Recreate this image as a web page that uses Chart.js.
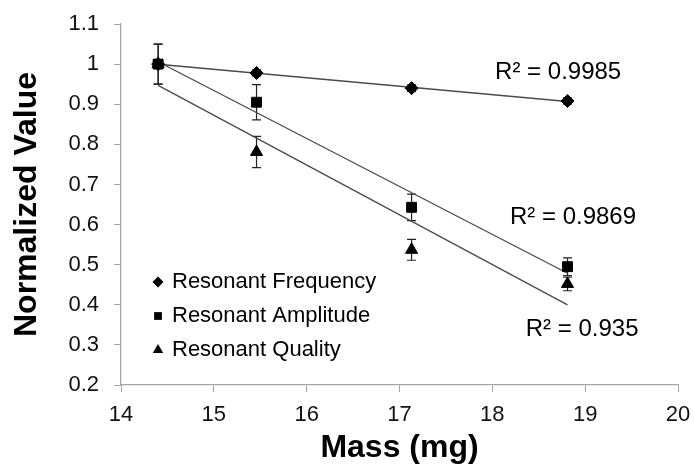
<!DOCTYPE html>
<html>
<head>
<meta charset="utf-8">
<script src="https://cdn.jsdelivr.net/npm/chart.js@4.4.1/dist/chart.umd.min.js"></script>
<style>
  body { margin: 0; background: #fff; }
  #wrap { width: 694px; height: 467px; }
</style>
</head>
<body>
<div id="wrap"><canvas id="chart" width="694" height="467"></canvas></div>
<script>
// values
const mass = [14.4, 15.46, 17.13, 18.81];
const frequency = [1.0, 0.978, 0.940, 0.908];
const frequencyErr = [0.01, 0.008, 0.008, 0.008];
const amplitude = [1.0, 0.905, 0.643, 0.495];
const amplitudeErr = [0.05, 0.044, 0.033, 0.022];
const quality = [1.0, 0.781, 0.537, 0.452];
const qualityErr = [0.05, 0.039, 0.026, 0.017];
const seriesNames = ['Resonant Frequency', 'Resonant Amplitude', 'Resonant Quality'];
const r2Labels = ['R² = 0.9985', 'R² = 0.9869', 'R² = 0.935'];
const xTicks = [14, 15, 16, 17, 18, 19, 20];
const yTicks = [0.2, 0.3, 0.4, 0.5, 0.6, 0.7, 0.8, 0.9, 1, 1.1];

const FONT = '"Liberation Sans", Arial, sans-serif';

// least squares trendline, like the Excel "linear" trendline
function linearFit(xs, ys) {
  const n = xs.length;
  const mx = xs.reduce((a, b) => a + b) / n;
  const my = ys.reduce((a, b) => a + b) / n;
  let sxy = 0, sxx = 0;
  xs.forEach((x, i) => { sxy += (x - mx) * (ys[i] - my); sxx += (x - mx) * (x - mx); });
  const slope = sxy / sxx;
  const icpt = my - slope * mx;
  return [xs[0], xs[n - 1]].map(x => ({ x: x, y: icpt + slope * x }));
}

const toPoints = ys => mass.map((m, i) => ({ x: m, y: ys[i] }));

function drawMarker(ctx, style, x, y, r) {
  ctx.beginPath();
  if (style === 'rectRot') {
    ctx.moveTo(x, y - r); ctx.lineTo(x + r, y); ctx.lineTo(x, y + r); ctx.lineTo(x - r, y);
  } else if (style === 'rect') {
    const s = r * Math.SQRT1_2;
    ctx.rect(x - s, y - s, 2 * s, 2 * s);
  } else {
    const h = r * 0.866;
    ctx.moveTo(x, y - r); ctx.lineTo(x + h, y + r / 2); ctx.lineTo(x - h, y + r / 2);
  }
  ctx.closePath();
  ctx.fill();
}

const errorBars = {
  id: 'errorBars',
  beforeDatasetsDraw(chart) {
    const { ctx, scales: { x, y } } = chart;
    ctx.save();
    ctx.strokeStyle = '#222';
    ctx.lineWidth = 1.2;
    [frequencyErr, amplitudeErr, qualityErr].forEach((errs, i) => {
      chart.data.datasets[i].data.forEach((p, j) => {
        const px = x.getPixelForValue(p.x);
        const top = y.getPixelForValue(p.y + errs[j]);
        const bot = y.getPixelForValue(p.y - errs[j]);
        ctx.beginPath();
        ctx.moveTo(px, top); ctx.lineTo(px, bot);
        ctx.moveTo(px - 4.5, top); ctx.lineTo(px + 4.5, top);
        ctx.moveTo(px - 4.5, bot); ctx.lineTo(px + 4.5, bot);
        ctx.stroke();
      });
    });
    ctx.restore();
  }
};

const labelsAndLegend = {
  id: 'labelsAndLegend',
  afterDraw(chart) {
    const { ctx, chartArea, scales: { x, y } } = chart;
    ctx.save();
    ctx.fillStyle = '#000';
    ctx.textBaseline = 'middle';
    ctx.textAlign = 'left';

    // legend sits inside the plot, lower left
    ctx.font = '22px ' + FONT;
    seriesNames.forEach((name, i) => {
      const cy = chartArea.top + 258 + i * 34;
      const mx = chartArea.left + 37;
      drawMarker(ctx, chart.data.datasets[i].pointStyle, mx, cy, i === 2 ? 6 : 5.5);
      ctx.fillText(name, mx + 14, cy);
    });

    // R² next to each trendline
    ctx.font = '24px ' + FONT;
    const spots = [[18.03, 0.98], [18.19, 0.619], [18.36, 0.339]];
    r2Labels.forEach((t, i) => {
      ctx.fillText(t, x.getPixelForValue(spots[i][0]), y.getPixelForValue(spots[i][1]));
    });
    ctx.restore();
  }
};

const pointSet = (label, ys, style, r) => ({
  label: label,
  data: toPoints(ys),
  pointStyle: style,
  pointRadius: r,
  pointHoverRadius: r,
  backgroundColor: '#000',
  borderColor: '#000',
  borderWidth: 1,
  showLine: false
});

const fitSet = ys => ({
  data: linearFit(mass, ys),
  showLine: true,
  borderColor: '#4a4a4a',
  borderWidth: 1.3,
  pointRadius: 0,
  fill: false
});

new Chart(document.getElementById('chart'), {
  type: 'scatter',
  data: {
    datasets: [
      pointSet(seriesNames[0], frequency, 'rectRot', 6.5),
      pointSet(seriesNames[1], amplitude, 'rect', 7),
      pointSet(seriesNames[2], quality, 'triangle', 7),
      fitSet(frequency),
      fitSet(amplitude),
      fitSet(quality)
    ]
  },
  options: {
    responsive: false,
    animation: false,
    devicePixelRatio: 1,
    layout: { padding: { top: 24, right: 16, left: 0, bottom: 0 } },
    plugins: {
      legend: { display: false },
      tooltip: { enabled: false }
    },
    scales: {
      x: {
        type: 'linear',
        min: 14,
        max: 20,
        afterBuildTicks: s => { s.ticks = xTicks.map(v => ({ value: v })); },
        afterFit: s => {
          s.height = 82;
          // keep the plot right edge where the layout padding puts it
          s.paddingLeft = 0;
          s.paddingRight = 0;
        },
        grid: { drawOnChartArea: false, drawTicks: true, tickLength: 7, color: '#a6a6a6' },
        border: { color: '#a6a6a6', width: 1.3 },
        ticks: { font: { family: FONT, size: 22 }, color: '#111', padding: 10 },
        title: {
          display: true,
          text: 'Mass (mg)',
          font: { family: FONT, size: 32, weight: 'bold' },
          color: '#000',
          padding: { top: 0, bottom: 0 }
        }
      },
      y: {
        type: 'linear',
        min: 0.2,
        max: 1.1,
        afterBuildTicks: s => { s.ticks = yTicks.map(v => ({ value: v })); },
        afterFit: s => {
          s.width = 121;
          s.paddingTop = 0;
          s.paddingBottom = 0;
        },
        grid: { drawOnChartArea: false, drawTicks: true, tickLength: 7, color: '#a6a6a6' },
        border: { color: '#a6a6a6', width: 1.3 },
        ticks: {
          font: { family: FONT, size: 22 },
          color: '#111',
          padding: 15,
          callback: v => String(Math.round(v * 10) / 10)
        },
        title: {
          display: true,
          text: 'Normalized Value',
          font: { family: FONT, size: 32, weight: 'bold' },
          color: '#000',
          padding: { top: 8, bottom: 0 }
        }
      }
    }
  },
  plugins: [errorBars, labelsAndLegend]
});
</script>
</body>
</html>
